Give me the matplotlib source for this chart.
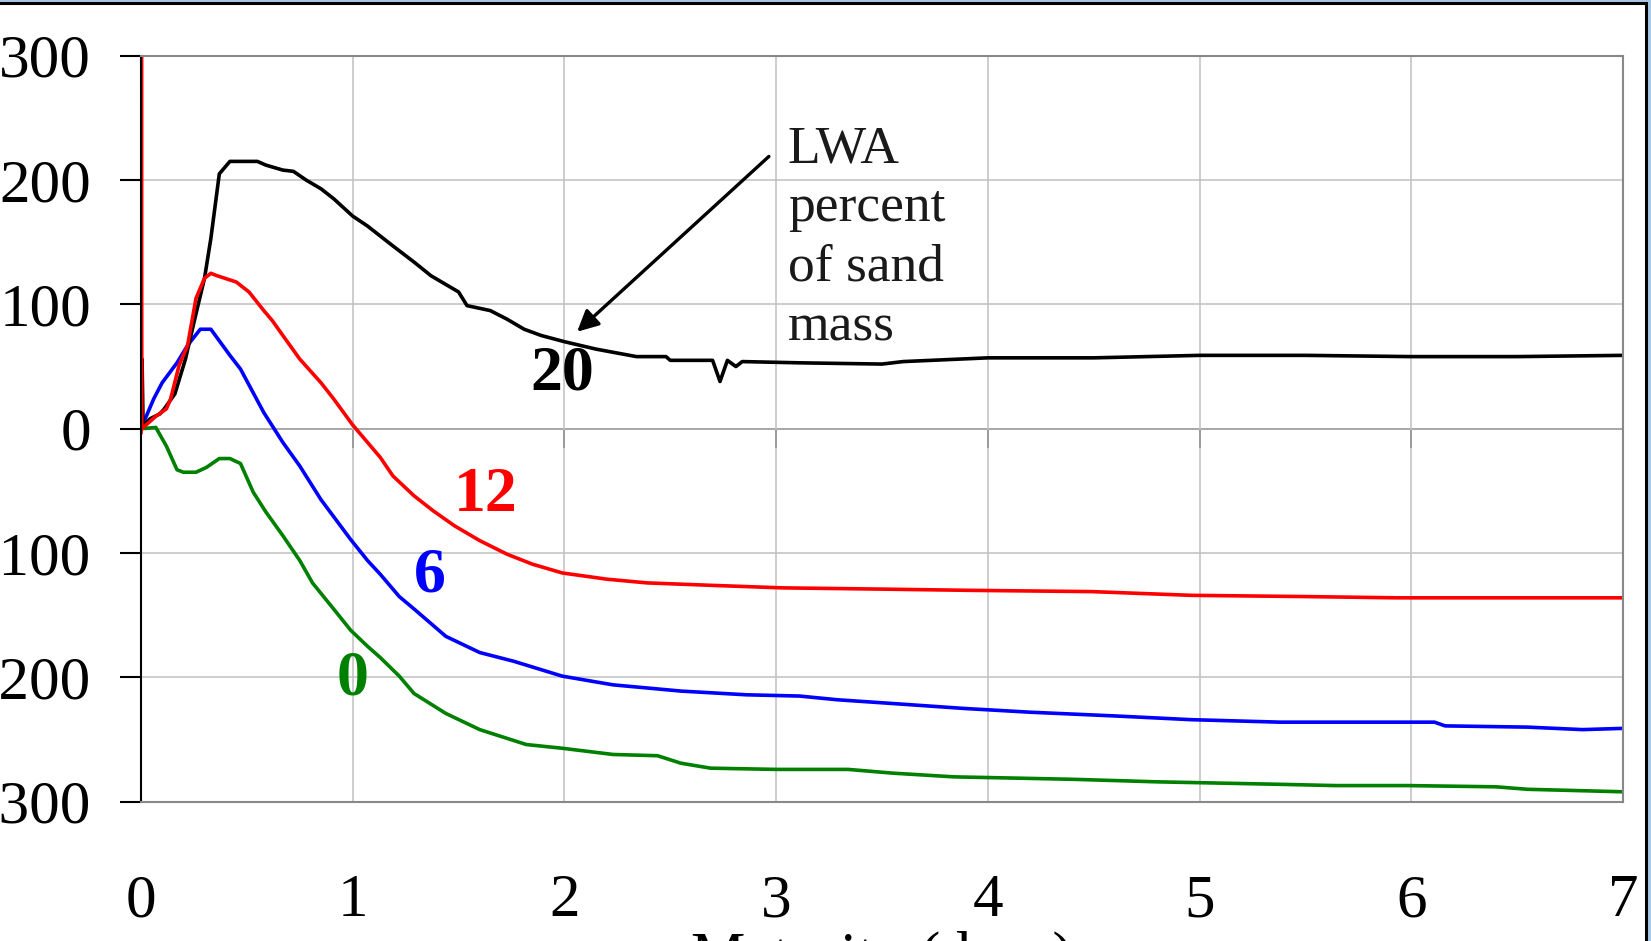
import matplotlib.pyplot as plt
from matplotlib.patches import Rectangle

# LWA content 20 % of sand mass
lwa20_days = [0, 0.005, 0.01, 0.043, 0.09, 0.11, 0.16, 0.21, 0.255, 0.30, 0.33, 0.37, 0.42, 0.55,
              0.59, 0.67, 0.72, 0.78, 0.85, 0.91, 1.0, 1.07, 1.13, 1.19, 1.29, 1.37, 1.43, 1.50,
              1.54, 1.65, 1.73, 1.81, 1.89, 2.0, 2.15, 2.34, 2.48, 2.50, 2.70, 2.735, 2.77, 2.81,
              2.84, 3.11, 3.5, 3.6, 4.0, 4.5, 5.0, 5.5, 6.0, 6.5, 7.0]
lwa20_strain = [0, 56, 2, 8, 12, 16, 28, 56, 89, 121, 153, 205, 215, 215,
                212, 208, 207, 200, 193, 185, 171, 163, 155, 147, 134, 123, 117, 110,
                99, 95, 88, 80, 75, 70, 64, 58, 58, 55, 55, 38, 55, 50,
                54, 53, 52, 54, 57, 57, 59, 59, 58, 58, 59]

# LWA content 12 %
lwa12_days = [0, 0.002, 0.004, 0.07, 0.12, 0.14, 0.18, 0.22, 0.26, 0.30, 0.33, 0.36, 0.45, 0.51,
              0.58, 0.62, 0.67, 0.75, 0.85, 0.91, 1.0, 1.13, 1.19, 1.29, 1.38, 1.48, 1.60, 1.73,
              1.85, 1.99, 2.20, 2.39, 2.70, 3.03, 3.5, 3.92, 4.49, 4.96, 5.5, 5.93, 7.0]
lwa12_strain = [-3, 300, 0, 10, 16, 24, 51, 67, 105, 121, 125, 123, 118, 110,
                95, 87, 75, 56, 37, 24, 3, -23, -38, -54, -66, -78, -90, -101,
                -109, -116, -121, -124, -126, -128, -129, -130, -131, -134, -135, -136, -136]

# LWA content 6 %
lwa6_days = [0, 0.06, 0.10, 0.17, 0.22, 0.28, 0.33, 0.42, 0.47, 0.58, 0.67, 0.75, 0.85, 0.99,
             1.07, 1.13, 1.22, 1.29, 1.44, 1.60, 1.76, 1.99, 2.23, 2.55, 2.86, 3.11, 3.29, 3.55,
             3.89, 4.20, 4.60, 4.96, 5.38, 6.11, 6.16, 6.55, 6.81, 7.0]
lwa6_strain = [0, 24, 37, 53, 67, 80, 80, 59, 48, 13, -11, -30, -57, -89,
               -106, -117, -135, -145, -167, -180, -187, -199, -206, -211, -214, -215, -218, -221,
               -225, -228, -231, -234, -236, -236, -239, -240, -242, -241]

# reference mix without LWA
lwa0_days = [0, 0.07, 0.12, 0.17, 0.20, 0.26, 0.31, 0.37, 0.42, 0.47, 0.53, 0.59, 0.67, 0.75,
             0.81, 0.91, 0.99, 1.07, 1.13, 1.22, 1.29, 1.44, 1.60, 1.82, 1.99, 2.23, 2.44, 2.55,
             2.69, 3.0, 3.34, 3.55, 3.84, 4.13, 4.41, 4.80, 5.38, 5.64, 5.98, 6.40, 6.55, 7.0]
lwa0_strain = [0, 1, -14, -33, -35, -35, -31, -24, -24, -28, -51, -67, -86, -106,
               -124, -145, -162, -175, -184, -199, -213, -229, -242, -254, -257, -262, -263, -269,
               -273, -274, -274, -277, -280, -281, -282, -284, -286, -287, -287, -288, -290, -292]

series_names = ["0", "6", "20", "12"]
series_days = [lwa0_days, lwa6_days, lwa20_days, lwa12_days]
series_strain = [lwa0_strain, lwa6_strain, lwa20_strain, lwa12_strain]
series_colors = ["#008000", "#0000ff", "#000000", "#ff0000"]

plt.rcParams['font.family'] = ['Liberation Serif', 'DejaVu Serif']

fig = plt.figure(figsize=(16.51, 9.41), dpi=100)
fig.patch.set_facecolor('#a8c8e8')
fig.add_artist(Rectangle((-0.01, -0.01), 1645.5 / 1651 + 0.01, 1 - 2.5 / 941 + 0.01,
                         transform=fig.transFigure, facecolor='white', edgecolor='black',
                         linewidth=2.2, zorder=-1))

ax = fig.add_axes([0.0854, 0.148, 0.8976, 0.7928])
ax.set_xlim(0, 7)
ax.set_ylim(-300, 300)
ax.set_xticks(range(8))
ax.set_yticks(range(-300, 301, 100))
ax.grid(color='#c0c0c0', linewidth=1.1)
ax.set_axisbelow(True)

for side in ['top', 'right', 'bottom']:
    ax.spines[side].set_color('#888888')
    ax.spines[side].set_linewidth(1.5)
ax.spines['left'].set_color('black')
ax.spines['left'].set_linewidth(1.5)

ax.tick_params(axis='y', direction='out', length=15, width=1.5, pad=21, labelsize=44)
ax.tick_params(axis='x', length=0, pad=52, labelsize=44)

# x axis crossing at zero strain, ticks only
zero_axis = ax.secondary_xaxis(0.5)
zero_axis.set_alignment('bottom')
zero_axis.set_xticks(range(8))
zero_axis.tick_params(direction='out', length=14, width=1.2, colors='black', labelbottom=False)
zero_axis.spines['bottom'].set_color('#404040')
zero_axis.spines['bottom'].set_linewidth(1.2)

for days, strain, color in zip(series_days, series_strain, series_colors):
    ax.plot(days, strain, color=color, linewidth=2.6, solid_joinstyle='round')

label_x = [1.0, 1.365, 1.99, 1.63]
label_y = [-202, -119, 44, -54]
for name, color, lx, ly in zip(series_names, series_colors, label_x, label_y):
    ax.text(lx, ly, name, color=color, fontsize=46, fontweight='bold', ha='center', va='center')

# baseline of the last line ("mass")
ax.text(3.056, 71, "LWA\npercent\nof sand\nmass", fontsize=38.5, color='#1a1a1a',
        ha='left', va='baseline', linespacing=1.31)
ax.annotate('', xy=(2.06, 78), xytext=(2.966, 219),
            arrowprops=dict(arrowstyle='-|>', color='black', lw=2.4, mutation_scale=32,
                            shrinkA=0, shrinkB=0))

fig.text(882 / 1651, -0.035, "Maturity (days)", ha='center', va='baseline', fontsize=44)

fig.savefig("out.png", dpi=100)
